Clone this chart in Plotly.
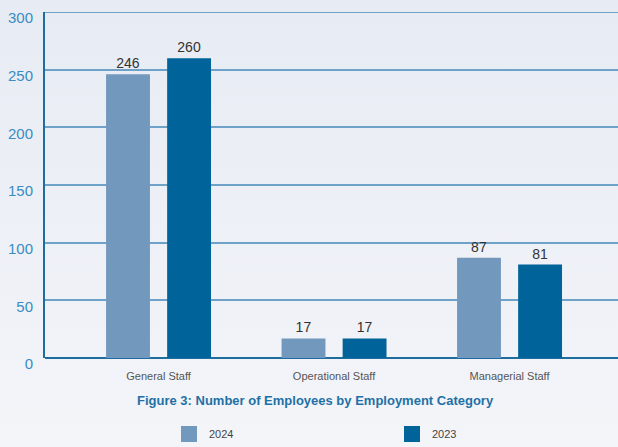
import base64
import plotly.graph_objects as go

categories = ["General Staff", "Operational Staff", "Managerial Staff"]
values_2024 = [246, 17, 87]
values_2023 = [260, 17, 81]
series_names = ["2024", "2023"]
colors = ["#7298be", "#006399"]
y_ticks = [0, 50, 100, 150, 200, 250, 300]

W, H = 618, 447
ML, MR, MT, MB = 45, 0, 12, 89
PW, PH = W - ML - MR, H - MT - MB
GRID_COLOR = "#6ea2c9"


def px_x(p):
    return (p - ML) / PW


def px_y(p):
    return (H - MB - p) / PH


# soft vertical wash behind the whole figure
bg_svg = (
    '<svg xmlns="http://www.w3.org/2000/svg" width="618" height="447">'
    '<defs><linearGradient id="g" x1="0" y1="0" x2="0" y2="1">'
    '<stop offset="0" stop-color="#e7ebf3"/>'
    '<stop offset="1" stop-color="#f3f5f9"/>'
    '</linearGradient></defs>'
    '<rect width="618" height="447" fill="url(#g)"/></svg>'
)
bg_src = "data:image/svg+xml;base64," + base64.b64encode(bg_svg.encode()).decode()

fig = go.Figure()

x_idx = list(range(len(categories)))
bar_w = 0.25
offsets = [-0.299, 0.049]

for name, vals, col, off in zip(series_names, [values_2024, values_2023], colors, offsets):
    fig.add_trace(go.Bar(
        x=x_idx, y=vals, name=name, width=bar_w, offset=off,
        marker=dict(color=col, line=dict(width=0)),
        text=[str(v) for v in vals], textposition="outside",
        textfont=dict(family="Liberation Sans, Arial", size=14, color="#333333"),
        cliponaxis=False, showlegend=False,
    ))

# legend entries with larger square swatches, one legend box per series
legend_ids = ["legend", "legend2"]
for name, col, lid in zip(series_names, colors, legend_ids):
    fig.add_trace(go.Scatter(
        x=[None], y=[None], mode="markers", name=name, legend=lid,
        marker=dict(symbol="square", size=19, color=col),
    ))

legend_font = dict(family="Liberation Sans, Arial", size=11, color="#444444")
legend_common = dict(xanchor="left", yanchor="middle", itemwidth=30,
                     font=legend_font, bgcolor="rgba(0,0,0,0)")

fig.update_layout(
    width=W, height=H,
    margin=dict(l=ML, r=MR, t=MT, b=MB, autoexpand=False),
    paper_bgcolor="#edf0f6",
    plot_bgcolor="rgba(0,0,0,0)",
    barmode="overlay",
    showlegend=True,
    images=[dict(
        source=bg_src, xref="paper", yref="paper",
        x=px_x(0), y=px_y(0), sizex=W / PW, sizey=H / PH,
        xanchor="left", yanchor="top", sizing="stretch", layer="below",
    )],
    # gridline at the top of the value range (plotly clips the end gridline)
    shapes=[dict(
        type="line", xref="paper", x0=0, x1=1,
        yref="y", y0=max(y_ticks), y1=max(y_ticks),
        line=dict(color=GRID_COLOR, width=2), layer="below",
    )],
    legend=dict(x=px_x(169), y=px_y(434), **legend_common),
    legend2=dict(x=px_x(392), y=px_y(434), **legend_common),
    xaxis=dict(
        range=[-0.647, 2.618],
        tickmode="array", tickvals=x_idx, ticktext=categories,
        tickfont=dict(family="Liberation Sans, Arial", size=11, color="#555555"),
        showgrid=False, zeroline=False,
        showline=False, ticks="", ticklabelstandoff=10,
        automargin=False,
    ),
    yaxis=dict(
        range=[0, 300],
        tickmode="array", tickvals=y_ticks,
        tickfont=dict(family="Liberation Sans, Arial", size=15, color="#3a8cc2"),
        showgrid=True, gridcolor=GRID_COLOR, gridwidth=2,
        zeroline=True, zerolinecolor="#1f6c9f", zerolinewidth=2,
        showline=True, linecolor="#1f6c9f", linewidth=2,
        ticks="", ticklabelstandoff=7, ticklabelshift=6, automargin=False,
    ),
    annotations=[dict(
        text="<b>Figure 3: Number of Employees by Employment Category</b>",
        x=px_x(315), xref="paper", xanchor="center",
        y=px_y(400), yref="paper", yanchor="middle",
        showarrow=False,
        font=dict(family="Liberation Sans, Arial", size=13, color="#1f70a6"),
    )],
)

fig.write_html("out.html")
